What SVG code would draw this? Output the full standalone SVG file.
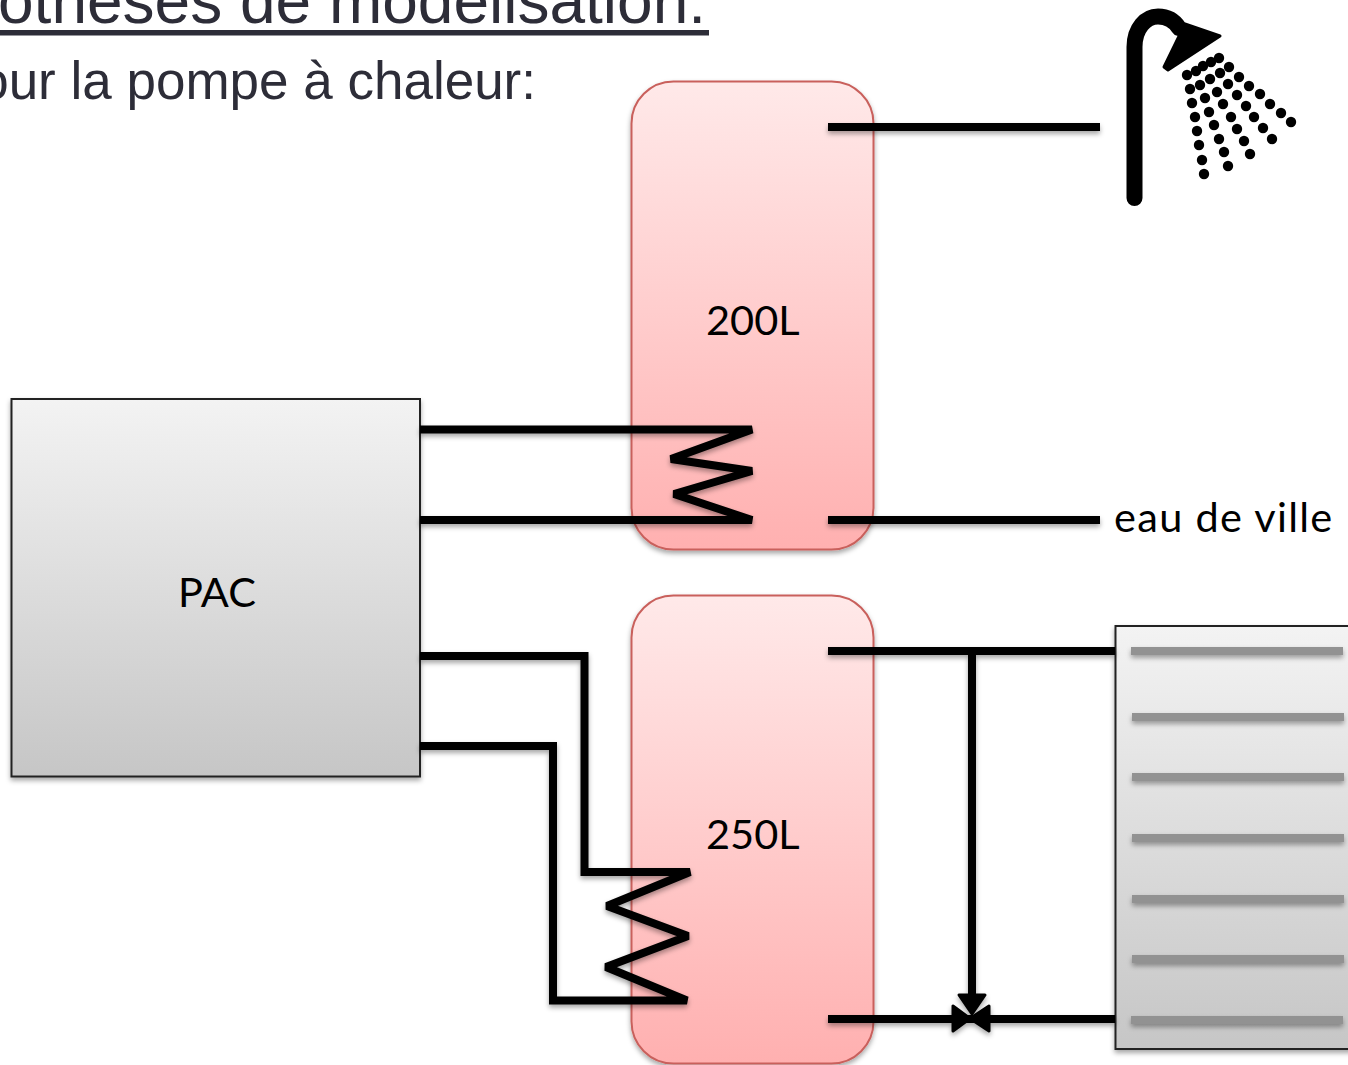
<svg xmlns="http://www.w3.org/2000/svg" width="1348" height="1065" viewBox="0 0 1348 1065">
<style>
.head{font-family:"Liberation Sans",Arial,sans-serif;fill:#2d2d38}
.lbl{font-family:Lato,"Liberation Sans",sans-serif;font-size:41.500px;fill:#000}
.tank{fill:url(#red);stroke:#c9605c;stroke-width:2}
.box{stroke:#222;stroke-width:2}
.pipe{fill:none;stroke:#000;stroke-width:8;stroke-linejoin:miter;stroke-miterlimit:2}
.bar{fill:#929292}
.dots circle{r:5.200px;fill:#000}
</style>
<defs>
<linearGradient id="red" x1="0" y1="0" x2="0" y2="1"><stop offset="0" stop-color="#ffe9e9"/><stop offset="1" stop-color="#ffb0b0"/></linearGradient>
<linearGradient id="grey" x1="0" y1="0" x2="0" y2="1"><stop offset="0" stop-color="#f3f3f3"/><stop offset="1" stop-color="#c6c6c6"/></linearGradient>
<filter id="sh" x="-10%" y="-10%" width="120%" height="120%"><feDropShadow dx="0" dy="3" stdDeviation="2.500" flood-color="#000" flood-opacity=".35"/></filter>
</defs>
<rect width="1348" height="1065" fill="#fff"/>
<g id="title">
<text class="head" x="706" y="23" text-anchor="end" font-size="64">othèses de modélisation:</text>
<rect x="0" y="30" width="709" height="5.500" fill="#2d2d38"/>
<text class="head" x="536" y="99" text-anchor="end" font-size="53">our la pompe à chaleur:</text>
</g>
<g id="tank200" filter="url(#sh)"><rect class="tank" x="631.500" y="81.500" width="242" height="468" rx="42"/></g>
<g id="tank250" filter="url(#sh)"><rect class="tank" x="631.500" y="595.500" width="242" height="468" rx="42"/></g>
<g id="pac" filter="url(#sh)"><rect class="box" fill="url(#grey)" x="11.500" y="399" width="408.500" height="377.500"/></g>
<g id="radiator">
<rect class="box" fill="url(#grey)" x="1115.500" y="626" width="240" height="423" filter="url(#sh)"/>
<g filter="url(#sh)">
<rect class="bar" x="1131" y="647" width="212" height="8"/>
<rect class="bar" x="1132" y="713" width="212" height="8"/>
<rect class="bar" x="1132" y="773" width="212" height="8"/>
<rect class="bar" x="1132" y="834" width="212" height="8"/>
<rect class="bar" x="1132" y="895" width="212" height="8"/>
<rect class="bar" x="1132" y="955" width="212" height="8"/>
<rect class="bar" x="1131" y="1016" width="212" height="8"/>
</g>
</g>
<g id="connectors" filter="url(#sh)">
<path class="pipe" d="M420 429.500H752L671 459L752 471L674 494L752 520H420"/>
<path class="pipe" d="M420 656H584.500V872H690L607 906L688 936L606 967L687 1000.500H553V746H420"/>
<path class="pipe" d="M828 127H1100"/>
<path class="pipe" d="M828 520H1100"/>
<path class="pipe" d="M828 651H1115"/>
<path class="pipe" d="M828 1019H1115"/>
<path class="pipe" d="M972 651V996"/>
<path d="M959 995H985L972 1014Z" fill="#000" stroke="#000" stroke-width="3" stroke-linejoin="round"/>
<path d="M953 1006V1031L970 1018.500L989 1031V1006L970 1018.500Z" fill="#000" stroke="#000" stroke-width="3" stroke-linejoin="round"/>
</g>
<g id="shower">
<path d="M1134.500 198V47C1134.500 28 1146 16.500 1158 16.500C1167 16.500 1174 20 1179 28" fill="none" stroke="#000" stroke-width="16" stroke-linecap="round"/>
<path d="M1185 24L1220 36L1168 70L1164 67Z" fill="#000" stroke="#000" stroke-width="3" stroke-linejoin="round"/>
<g class="dots">
<circle cx="1187" cy="75"/><circle cx="1196" cy="71"/><circle cx="1203" cy="66"/><circle cx="1211" cy="62"/><circle cx="1219" cy="58"/>
<circle cx="1190" cy="89"/><circle cx="1200" cy="85"/><circle cx="1210" cy="79"/><circle cx="1220" cy="73"/><circle cx="1229" cy="67"/>
<circle cx="1192" cy="103"/><circle cx="1205" cy="98"/><circle cx="1217" cy="92"/><circle cx="1228" cy="84"/><circle cx="1239" cy="77"/>
<circle cx="1195" cy="117"/><circle cx="1209" cy="112"/><circle cx="1223" cy="104"/><circle cx="1237" cy="95"/><circle cx="1249" cy="86"/>
<circle cx="1197" cy="131"/><circle cx="1214" cy="125"/><circle cx="1231" cy="117"/><circle cx="1246" cy="106"/><circle cx="1260" cy="94"/>
<circle cx="1199" cy="145"/><circle cx="1219" cy="139"/><circle cx="1237" cy="129"/><circle cx="1254" cy="117"/><circle cx="1270" cy="104"/>
<circle cx="1202" cy="160"/><circle cx="1224" cy="152"/><circle cx="1244" cy="141"/><circle cx="1263" cy="128"/><circle cx="1281" cy="113"/>
<circle cx="1204" cy="174"/><circle cx="1228" cy="166"/><circle cx="1250" cy="154"/><circle cx="1272" cy="139"/><circle cx="1291" cy="122"/>
</g>
</g>
<text class="lbl" x="706" y="335">200L</text>
<text class="lbl" x="706" y="849">250L</text>
<text class="lbl" x="178" y="607">PAC</text>
<text class="lbl" x="1114" y="532" letter-spacing="1.300">eau de ville</text>
</svg>
